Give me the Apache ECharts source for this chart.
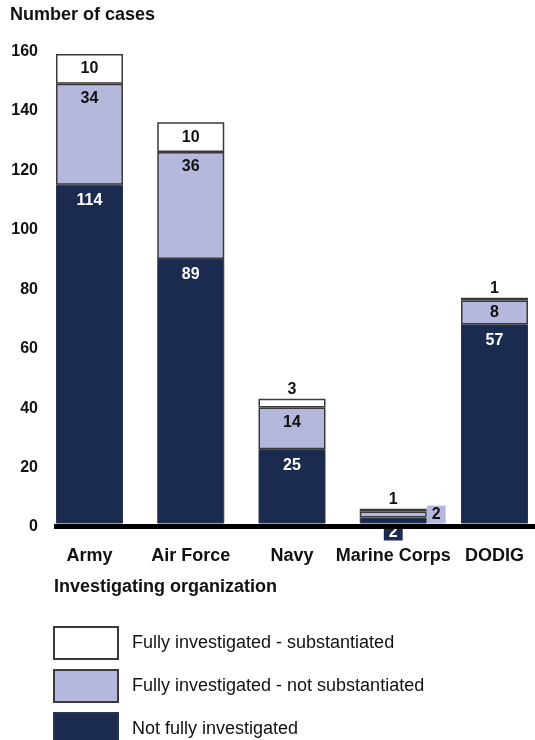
<!DOCTYPE html>
<html>
<head>
<meta charset="utf-8">
<script src="https://cdn.jsdelivr.net/npm/echarts@6/dist/echarts.min.js"></script>
<style>
html,body{margin:0;padding:0;background:#fff;}
#chart{width:535px;height:740px;}
</style>
</head>
<body>
<div id="chart"></div>
<script>
var categories = ['Army', 'Air Force', 'Navy', 'Marine Corps', 'DODIG'];
var notFully = [114, 89, 25, 2, 67];
var notSubstantiated = [34, 36, 14, 2, 8];
var substantiated = [10, 10, 3, 1, 1];
var notFullyLabels = ['114', '89', '25', '2', '57'];
var notSubstantiatedLabels = ['34', '36', '14', '2', '8'];
var substantiatedLabels = ['10', '10', '3', '1', '1'];
var yTicks = [0, 20, 40, 60, 80, 100, 120, 140, 160];
var seriesNames = ['Fully investigated - substantiated', 'Fully investigated - not substantiated', 'Not fully investigated'];

var FONT = '"Liberation Sans", Arial, Helvetica, sans-serif';
var NAVY = '#1b2a4f';
var LAV = '#b4b8dc';
var BORDER = '#3a3a3a';

var chart = echarts.init(document.getElementById('chart'), null, {renderer: 'canvas'});

var baseLabel = {show: true, fontFamily: FONT, fontSize: 16, fontWeight: 'bold'};

function mkData(vals, kind) {
  return vals.map(function (v, i) {
    var lab;
    if (kind === 'dark') {
      if (i === 3) {
        lab = {position: 'bottom', distance: 2, backgroundColor: NAVY, color: '#fff', padding: [0, 5, 0, 5], lineHeight: 15};
      } else {
        lab = {position: 'insideTop', distance: 8};
      }
    } else if (kind === 'light') {
      if (i === 3) {
        lab = {position: 'right', distance: 0, backgroundColor: LAV, color: '#111', padding: [1, 5, 1, 5]};
      } else if (i === 4) {
        lab = {position: 'inside'};
      } else {
        lab = {position: 'insideTop', distance: 7};
      }
    } else {
      if (i >= 2) {
        lab = {position: 'top', distance: 1};
      } else {
        lab = {position: 'inside'};
      }
    }
    return {value: v, label: lab};
  });
}

var option = {
  animation: false,
  backgroundColor: '#fff',
  title: [
    {text: 'Number of cases', left: 5, top: 1, textStyle: {fontFamily: FONT, fontSize: 18, fontWeight: 'bold', color: '#111'}},
    {text: 'Investigating organization', left: 49, top: 573, textStyle: {fontFamily: FONT, fontSize: 18, fontWeight: 'bold', color: '#111'}}
  ],
  legend: {
    orient: 'vertical',
    left: 48,
    top: 621,
    height: 200,
    itemWidth: 64,
    itemHeight: 32,
    itemGap: 9,
    icon: 'rect',
    data: seriesNames,
    textStyle: {fontFamily: FONT, fontSize: 18, color: '#111', padding: [0, 0, 0, 9]},
    selectedMode: false
  },
  grid: {left: 89.5, right: 40.5, top: 48, bottom: 216.5, containLabel: false},
  xAxis: {
    type: 'category',
    data: categories,
    boundaryGap: false,
    axisLine: {show: false},
    axisTick: {show: false},
    splitLine: {show: false},
    axisLabel: {interval: 0, fontFamily: FONT, fontSize: 18, fontWeight: 'bold', color: '#111', margin: 24}
  },
  yAxis: {
    type: 'value',
    min: 0,
    max: 160,
    interval: 20,
    axisLine: {show: false},
    axisTick: {show: false},
    splitLine: {show: false},
    axisLabel: {
      fontFamily: FONT, fontSize: 16, fontWeight: 'bold', color: '#111', margin: 51.5,
      verticalAlign: 'top', lineHeight: 7,
      formatter: function (v) { return yTicks.indexOf(v) >= 0 ? String(v) : ''; }
    }
  },
  series: [
    {
      name: seriesNames[2], type: 'bar', stack: 's', barWidth: 67, clip: false,
      itemStyle: {color: NAVY, borderColor: '#2a3550', borderWidth: 1},
      label: Object.assign({}, baseLabel, {color: '#fff', formatter: function (p) { return notFullyLabels[p.dataIndex]; }}),
      data: mkData(notFully, 'dark')
    },
    {
      name: seriesNames[1], type: 'bar', stack: 's', barWidth: 67, clip: false,
      itemStyle: {color: LAV, borderColor: BORDER, borderWidth: 1.5},
      label: Object.assign({}, baseLabel, {color: '#111', formatter: function (p) { return notSubstantiatedLabels[p.dataIndex]; }}),
      data: mkData(notSubstantiated, 'light')
    },
    {
      name: seriesNames[0], type: 'bar', stack: 's', barWidth: 67, clip: false,
      itemStyle: {color: '#ffffff', borderColor: BORDER, borderWidth: 1.5},
      label: Object.assign({}, baseLabel, {color: '#111', formatter: function (p) { return substantiatedLabels[p.dataIndex]; }}),
      data: mkData(substantiated, 'white')
    }
  ]
};

chart.setOption(option);

var y0 = chart.convertToPixel({yAxisIndex: 0}, 0);
var xFirst = chart.convertToPixel({xAxisIndex: 0}, categories[0]);
chart.setOption({
  graphic: [{
    type: 'rect',
    z: 100,
    shape: {x: xFirst - 35.5, y: y0 + 0.5, width: 535 - (xFirst - 35.5), height: 5},
    style: {fill: '#000'}
  }]
});
</script>
</body>
</html>
